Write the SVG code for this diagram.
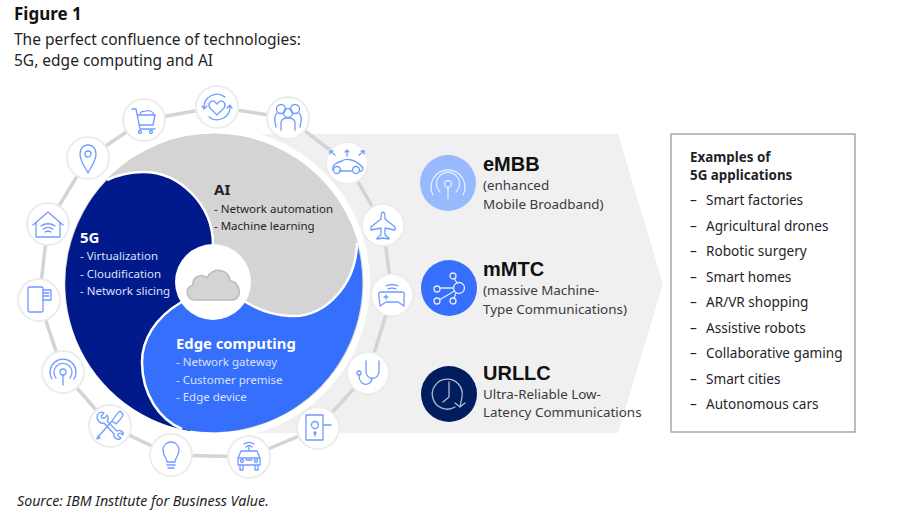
<svg xmlns="http://www.w3.org/2000/svg" width="900" height="515" viewBox="0 0 900 515">
<style>
text{font-family:"Noto Sans","Open Sans","Liberation Sans",sans-serif;fill:#1f1f28}
.b{font-weight:700}
.w{fill:#fff}
.wl{fill:#d9e2fb}
.s{font-size:11.5px}
.l{font-size:13.6px}
.t{font-size:13.4px}
.r{font-size:13.4px;fill:#3a3a42}
.h{font-size:20px;font-weight:700;font-family:"Liberation Sans",Arial,sans-serif;fill:#111}
.n{fill:#fff;stroke:#ececec;stroke-width:2}
.i{fill:none;stroke:#6f9bff;stroke-width:1.3;stroke-linecap:round;stroke-linejoin:round}
.c{fill:none;stroke:#e6ecff;stroke-width:1.3;stroke-linecap:round;stroke-linejoin:round}
.d{fill:none;stroke:#aeb9d6;stroke-width:1.3;stroke-linecap:round;stroke-linejoin:round}
</style>
<rect width="900" height="515" fill="#fff"/>
<g id="heading">
<text x="14" y="20" font-size="17" class="b" style="fill:#111">Figure 1</text>
<text x="14" y="45" font-size="15.5">The perfect confluence of technologies:</text>
<text x="14" y="66" font-size="15.500">5G, edge computing and AI</text>
</g>
<polygon id="panel" points="214,134 618,134 663,284 618,433 214,433" fill="#f0f0f0"/>
<circle cx="214" cy="283" r="156" fill="#fff"/>
<g id="connectors">
<polygon points="217,107 288,118 347,163 383,225 392,295 368,373 318,428 249,457 171,455 110,426 63,372 39,300 48,224 88,158 144,120" fill="none" stroke="#d4d4d4" stroke-width="3.5"/>
</g>
<g id="disc">
<circle cx="214" cy="283" r="149.500" fill="#d4d4d4"/>
<path id="segment-5g" d="M213 283L213 245C213 205 180 172 143 172C130 172 118 175 107 180A149.500 149.500 0 0 0 190 431L213 283Z" fill="#001a8c"/>
<path d="M213 283L213 245C213 205 180 172 143 172C130 172 118 175 107 180" fill="none" stroke="#fff" stroke-width="2.5"/>
<path id="segment-edge" d="M182 429A149.500 149.500 0 0 0 357 243C356 285 325 318 290 316C272 315 256 310 240 298L213 283L180 303C155 318 142 340 142 362C142 395 160 420 182 429Z" fill="#366ffb"/>
<path d="M357 243C356 285 325 318 290 316C272 315 256 310 240 298L213 283L180 303C155 318 142 340 142 362C142 395 160 420 182 429" fill="none" stroke="#fff" stroke-width="2.5"/>
</g>
<g id="node-cloud">
<circle cx="213" cy="282" r="38" fill="#fff"/>
<path d="M195 300C186 300 184 288 193 285C192 276 203 273 207 278C212 266 230 269 230 281C241 281 243 300 232 300Z" fill="#d4d4d4" stroke="#bcbcbc" stroke-width="1.5"/>
</g>
<g id="label-ai">
<text x="214" y="195" font-size="15" class="b">AI</text>
<text x="214" y="213" class="s">- Network automation</text>
<text x="214" y="230" class="s">- Machine learning</text>
</g>
<g id="label-5g">
<text x="80" y="243" font-size="15" class="b w">5G</text>
<text x="80" y="260" class="s wl">- Virtualization</text>
<text x="80" y="278" class="s wl">- Cloudification</text>
<text x="80" y="295" class="s wl">- Network slicing</text>
</g>
<g id="label-edge">
<text x="176" y="349" font-size="14.800" class="b w">Edge computing</text>
<text x="176" y="366" class="s wl">- Network gateway</text>
<text x="176" y="384" class="s wl">- Customer premise</text>
<text x="176" y="401" class="s wl">- Edge device</text>
</g>
<g id="node-heart" transform="translate(217 107)"><circle class="n" r="21"/><path class="i" d="M0 8L-7 1C-10-3-6-7-3-6L0-3L3-6C6-7 10-3 7 1ZM-13 1A13 13 0 0 1 8-10M13-1A13 13 0 0 1-8 10M-15-1L-13 2L-10-1M15 1L13-2L10 1"/></g>
<g id="node-people" transform="translate(288 118)"><circle class="n" r="21"/><circle class="i" cx="-7" cy="-9" r="4.500"/><circle class="i" cx="7" cy="-9" r="4.500"/><circle class="i" cy="-5" r="4.500"/><path class="i" d="M-7 12V5C-7 1-4 0 0 0C4 0 7 1 7 5V12M-12 9C-14 1-14-3-11-5M12 9C14 1 14-3 11-5"/></g>
<g id="node-autocar" transform="translate(347 163)"><circle class="n" r="21"/><path class="i" d="M-14 7C-16 2-9-1-5-2C-1-5 9-4 16 5C16 8 14 9 12 8M-8 8H5"/><circle class="i" cx="-10" cy="7" r="3.500"/><circle class="i" cx="9" cy="7" r="3.500"/><path class="i" d="M0-7V-13M-2-11L0-13L2-11M-12-8L-17-12M-17-9V-12H-14M12-8L17-12M14-12H17V-9"/></g>
<g id="node-plane" transform="translate(383 225)"><circle class="n" r="21"/><path class="i" d="M0-13C2-13 2-9 2-6L12 2V5L2 3V10L6 13V14L0 13L-6 14V13L-2 10V3L-12 5V2L-2-6C-2-9-2-13 0-13Z"/></g>
<g id="node-game" transform="translate(392 295)"><circle class="n" r="21"/><path class="i" d="M-11-3H10C12-3 13-1 12 2L12 11L6 7H-6L-12 11L-13 2C-14-1-13-3-11-3ZM-8 2H-4M-6 0V4M-6-9C-3-11 3-11 6-9M-4-6C-2-7 2-7 4-6"/></g>
<g id="node-stethoscope" transform="translate(368 373)"><circle class="n" r="21"/><path class="i" d="M-2-12V-2C-2 8 11 8 11-2V-12M4 5C4 13-9 15-9 2"/><circle class="i" cx="-9" cy="0" r="2"/></g>
<g id="node-door" transform="translate(318 428)"><circle class="n" r="21"/><path class="i" d="M-12-13H5V12H-12ZM5-3H13"/><circle class="i" cx="-3" cy="-3" r="3.500"/><path class="i" d="M-3 5V8"/><circle class="i" cx="-3" cy="5" r="1"/></g>
<g id="node-car" transform="translate(249 457)"><circle class="n" r="21"/><path class="i" d="M-11 1L-8-6H8L11 1V8H-11ZM-9 8V13H-6V8M9 8V13H6V8M-3 3H3M-11 1H11M0-6V-10"/><circle class="i" cx="-7" cy="4" r="1.500"/><circle class="i" cx="7" cy="4" r="1.500"/><path class="i" d="M-3-10C-1-12 1-12 3-10M-5-13C-2-15 2-15 5-13"/></g>
<g id="node-bulb" transform="translate(171 455)"><circle class="n" r="21"/><path class="i" d="M-4 7C-4 3-8 1-8-5C-8-10-4-13 0-13C4-13 8-10 8-5C8 1 4 3 4 7ZM-4 10H4M-3 13H3"/></g>
<g id="node-tools" transform="translate(110 426)"><circle class="n" r="21"/><path class="i" d="M-13-9C-13-13-9-15-6-13L-9-10L-8-8L-5-8L-3-11C-1-8-2-6-3-5L7 5C10 3 14 6 13 9L10 7L8 8V10L11 12C8 15 3 12 4 8L-6-3C-9-2-13-5-13-9ZM13-12L10-15C8-14 4-8 2-5L6-2C8-4 13-9 13-12ZM2-5L-11 10M-13 13L-10 12L-12 10Z"/></g>
<g id="node-antenna" transform="translate(63 372)"><circle class="n" r="21"/><circle class="i" r="3"/><path class="i" d="M0 3V13M-7 6A9 9 0 1 1 7 6M-11 7A13 13 0 1 1 11 7"/></g>
<g id="node-phone" transform="translate(39 300)"><circle class="n" r="21"/><rect class="i" x="-11" y="-13" width="15" height="25" rx="1.500"/><path class="i" d="M4-10H12V0H4M4-7H10M4-4H10"/></g>
<g id="node-home" transform="translate(48 224)"><circle class="n" r="21"/><path class="i" d="M-12 13V-1M12 13V-1M-12 13H12M-15 1L0-12L15 1M-7 2C-3-1 3-1 7 2M-5 5C-2 3 2 3 5 5M-3 8C-1 7 1 7 3 8"/></g>
<g id="node-pin" transform="translate(88 158)"><circle class="n" r="21"/><path class="i" d="M0 15C-3 9-8 3-8-4C-8-10-4-13 0-13C4-13 8-10 8-4C8 3 3 9 0 15Z"/><circle class="i" cy="-4" r="3"/></g>
<g id="node-cart" transform="translate(144 120)"><circle class="n" r="21"/><path class="i" d="M-12-11H-8L-4 9H11M-7-5H11L9 5H-5M-4-5C-4-10 0-8 2-9C4-10 8-9 10-6"/><circle class="i" cx="-4" cy="12" r="1.500"/><circle class="i" cx="7" cy="12" r="1.500"/></g>
<g id="node-embb">
<circle cx="448" cy="183" r="28" fill="#97b9ff"/>
<g transform="translate(448 184)"><circle class="c" r="3.500"/><path class="c" d="M0 4V15M-8 8A11.500 11.500 0 1 1 8 8M-15 11A17 17 0 1 1 15 11"/></g>
<text x="483" y="171" class="h">eMBB</text>
<text x="483" y="190" class="r">(enhanced</text>
<text x="483" y="208.500" class="r">Mobile Broadband)</text>
</g>
<g id="node-mmtc">
<circle cx="449" cy="288" r="28" fill="#366ffb"/>
<g transform="translate(449 288)"><circle class="c" cx="10" r="5.500"/><circle class="c" cx="4" cy="-12" r="3"/><circle class="c" cx="-12" cy="1" r="3"/><circle class="c" cx="-12" cy="13" r="3"/><circle class="c" cx="4" cy="13" r="3"/><path class="c" d="M8-5L5.500-9M4.500 0H-9M5.500 3L-9 11.500M7 5L5 10"/></g>
<text x="483" y="276" class="h">mMTC</text>
<text x="483" y="295" class="r">(massive Machine-</text>
<text x="483" y="313.500" class="r">Type Communications)</text>
</g>
<g id="node-urllc">
<circle cx="449" cy="394" r="28" fill="#001d5e"/>
<path class="d" d="M455 407A15 15 0 1 1 462 397L460 407M455 403L460 407L465 403M449 382V397L443 402"/>
<text x="483" y="380" class="h">URLLC</text>
<text x="483" y="398.500" class="r">Ultra-Reliable Low-</text>
<text x="483" y="417" class="r">Latency Communications</text>
</g>
<g id="node-applications">
<rect x="671" y="134" width="184" height="298" fill="#fff" stroke="#9a9a9a" stroke-width="1.300"/>
<text x="690" y="162" class="t b">Examples of</text>
<text x="690" y="180" class="t b">5G applications</text>
<g class="l">
<text x="690" y="205">–</text><text x="706" y="205">Smart factories</text>
<text x="690" y="231">–</text><text x="706" y="231">Agricultural drones</text>
<text x="690" y="256">–</text><text x="706" y="256">Robotic surgery</text>
<text x="690" y="282">–</text><text x="706" y="282">Smart homes</text>
<text x="690" y="307">–</text><text x="706" y="307">AR/VR shopping</text>
<text x="690" y="333">–</text><text x="706" y="333">Assistive robots</text>
<text x="690" y="358">–</text><text x="706" y="358">Collaborative gaming</text>
<text x="690" y="384">–</text><text x="706" y="384">Smart cities</text>
<text x="690" y="409">–</text><text x="706" y="409">Autonomous cars</text>
</g>
</g>
<text id="source" x="17" y="506" font-size="14.200" font-style="italic">Source: IBM Institute for Business Value.</text>
</svg>
